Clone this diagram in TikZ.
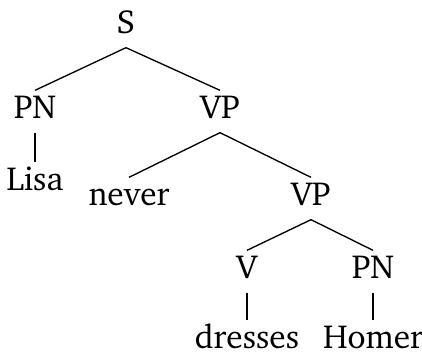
\documentclass[tikz,border=0pt]{standalone}
\usepackage[T1]{fontenc}
\usepackage{charter}
\usepackage{tikz}

\begin{document}
\begin{tikzpicture}[
    x=0.3pt, y=-0.3pt,
    cat/.style={anchor=base, inner sep=0pt, text height=8.1pt, text depth=4.2pt},
    edge/.style={draw, thin}
]
\useasboundingbox (0,0) rectangle (422,351);

% categories and words
\node[cat] (s) at (126,33) {S};
\node[cat] (pn) at (35,118) {PN};
\node[cat] (vp) at (220,118) {VP};
\node[cat] (lisa) at (35,190) {Lisa};
\node[cat] (never) at (129,205) {never};
\node[cat] (vpb) at (311,205) {VP};
\node[cat] (v) at (247,278) {V};
\node[cat] (pnb) at (373,278) {PN};
\node[cat] (dresses) at (247,348) {dresses};
\node[cat] (homer) at (373,348) {Homer};

% branches
\path[edge] (s.south) -- (pn.north);
\path[edge] (s.south) -- (vp.north);
\path[edge] (pn.south) -- (lisa.north);
\path[edge] (vp.south) -- (never.north);
\path[edge] (vp.south) -- (vpb.north);
\path[edge] (vpb.south) -- (v.north);
\path[edge] (vpb.south) -- (pnb.north);
\path[edge] (v.south) -- (dresses.north);
\path[edge] (pnb.south) -- (homer.north);

\end{tikzpicture}
\end{document}
